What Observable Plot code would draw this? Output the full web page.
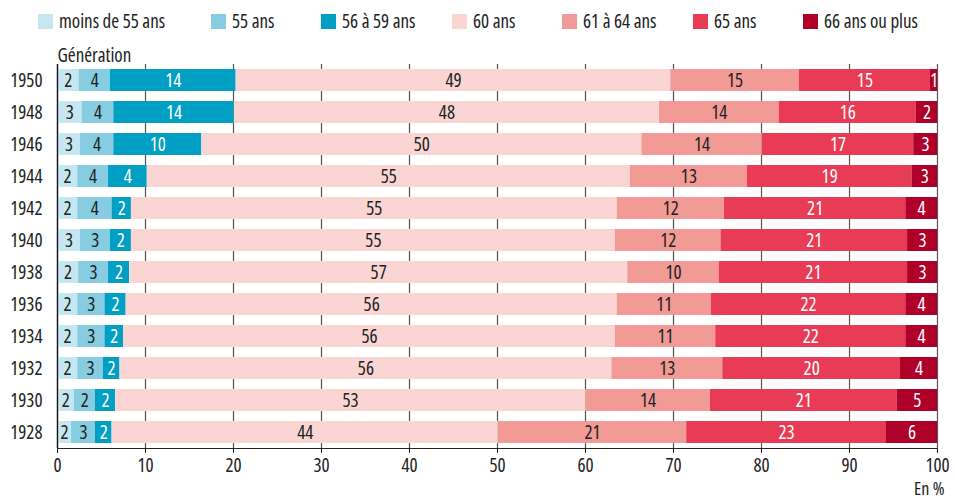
<!DOCTYPE html>
<html>
<head>
<meta charset="utf-8">
<script src="https://cdn.jsdelivr.net/npm/d3@7"></script>
<script src="https://cdn.jsdelivr.net/npm/@observablehq/plot@0.6"></script>
<style>
  html, body { margin: 0; padding: 0; background: #fff; }
  body { width: 955px; height: 499px; overflow: hidden; font-family: "Open Sans", sans-serif; font-stretch: condensed; color: #222; }
  #legend { position: relative; height: 40px; width: 955px; }
  .item { position: absolute; top: 10px; display: flex; align-items: center; font-size: 19px; line-height: 22px; white-space: nowrap; }
  .sw { width: 15px; height: 15px; margin-right: 6px; }
  svg { display: block; font-stretch: condensed; }
</style>
</head>
<body>
<div id="legend"></div>
<div id="chart"></div>
<script>
const generations = ["1950","1948","1946","1944","1942","1940","1938","1936","1934","1932","1930","1928"];
const categories = ["moins de 55 ans","55 ans","56 à 59 ans","60 ans","61 à 64 ans","65 ans","66 ans ou plus"];
const colors = ["#c6e7f0","#86cde1","#009fc3","#f9d6d3","#f29a96","#e83c56","#af0029"];
const darkText = ["moins de 55 ans","55 ans","60 ans","61 à 64 ans"];

// values per category, in order of generations (%)
const moins55 = [2.45, 2.8, 2.6, 2.3, 2.3, 2.6, 2.4, 2.3, 2.3, 2.3, 1.9, 1.6];
const ans55   = [3.55, 3.6, 3.8, 3.5, 3.9, 3.4, 3.4, 3.1, 3.1, 2.9, 2.4, 2.7];
const ans56_59 = [14.3, 13.7, 10.0, 4.4, 2.2, 2.4, 2.4, 2.4, 2.1, 1.9, 2.3, 1.9];
const ans60   = [49.4, 48.3, 50.0, 54.9, 55.2, 55.0, 56.6, 55.8, 55.9, 55.9, 53.4, 43.9];
const ans61_64 = [14.6, 13.6, 13.7, 13.3, 12.2, 12.0, 10.4, 10.7, 11.4, 12.6, 14.2, 21.4];
const ans65   = [14.9, 15.6, 17.2, 18.7, 20.6, 21.2, 21.4, 22.1, 21.6, 20.2, 21.2, 22.7];
const ans66plus = [0.8, 2.4, 2.7, 2.9, 3.6, 3.4, 3.4, 3.6, 3.6, 4.2, 4.6, 5.8];
const xTicks = [0, 10, 20, 30, 40, 50, 60, 70, 80, 90, 100];

const series = [moins55, ans55, ans56_59, ans60, ans61_64, ans65, ans66plus];
const rows = generations.flatMap((g, i) => categories.map((c, j) => ({gen: g, cat: c, value: series[j][i]})));

// legend
const legendLefts = [38, 211, 321, 452, 562, 693, 803];
const legend = document.getElementById("legend");
categories.forEach((c, i) => {
  const it = document.createElement("div");
  it.className = "item";
  it.style.left = legendLefts[i] + "px";
  const sw = document.createElement("span");
  sw.className = "sw";
  sw.style.background = colors[i];
  const tx = document.createElement("span");
  tx.textContent = c;
  it.appendChild(sw); it.appendChild(tx);
  legend.appendChild(it);
});

const stackOpts = {x: "value", y: "gen", z: "cat", order: categories};
const label = d => String(Math.round(d.value));

const chart = Plot.plot({
  width: 955,
  height: 459,
  marginLeft: 57,
  marginRight: 18,
  marginTop: 24,
  marginBottom: 51,
  style: {fontFamily: '"Open Sans", sans-serif', fontStretch: "condensed", fontSize: "19px", color: "#222", background: "#fff"},
  x: {domain: [0, 100], ticks: xTicks, tickSize: 5, tickPadding: 5, line: true, label: null},
  y: {domain: generations, paddingInner: 0.3, paddingOuter: 0.15, tickSize: 0, tickPadding: 15, label: null},
  color: {domain: categories, range: colors},
  marks: [
    Plot.gridX(xTicks, {stroke: "#555", strokeOpacity: 1, strokeWidth: 1.2}),
    Plot.barX(rows, Plot.stackX({...stackOpts, fill: "cat"})),
    Plot.text(rows, Plot.stackX({...stackOpts, text: d => darkText.includes(d.cat) ? label(d) : "", fill: "#222"})),
    Plot.text(rows, Plot.stackX({...stackOpts, text: d => darkText.includes(d.cat) ? "" : label(d), fill: "#fff"})),
    Plot.ruleX([0], {stroke: "#111", strokeWidth: 1.3}),
    Plot.text(["Génération"], {text: d => d, frameAnchor: "top-left", dy: -16, textAnchor: "start", fill: "#222"}),
    Plot.text(["En %"], {text: d => d, frameAnchor: "bottom-right", dx: 7, dy: 46, fontSize: 18, textAnchor: "end", fill: "#222"})
  ]
});
document.getElementById("chart").appendChild(chart);
</script>
</body>
</html>
